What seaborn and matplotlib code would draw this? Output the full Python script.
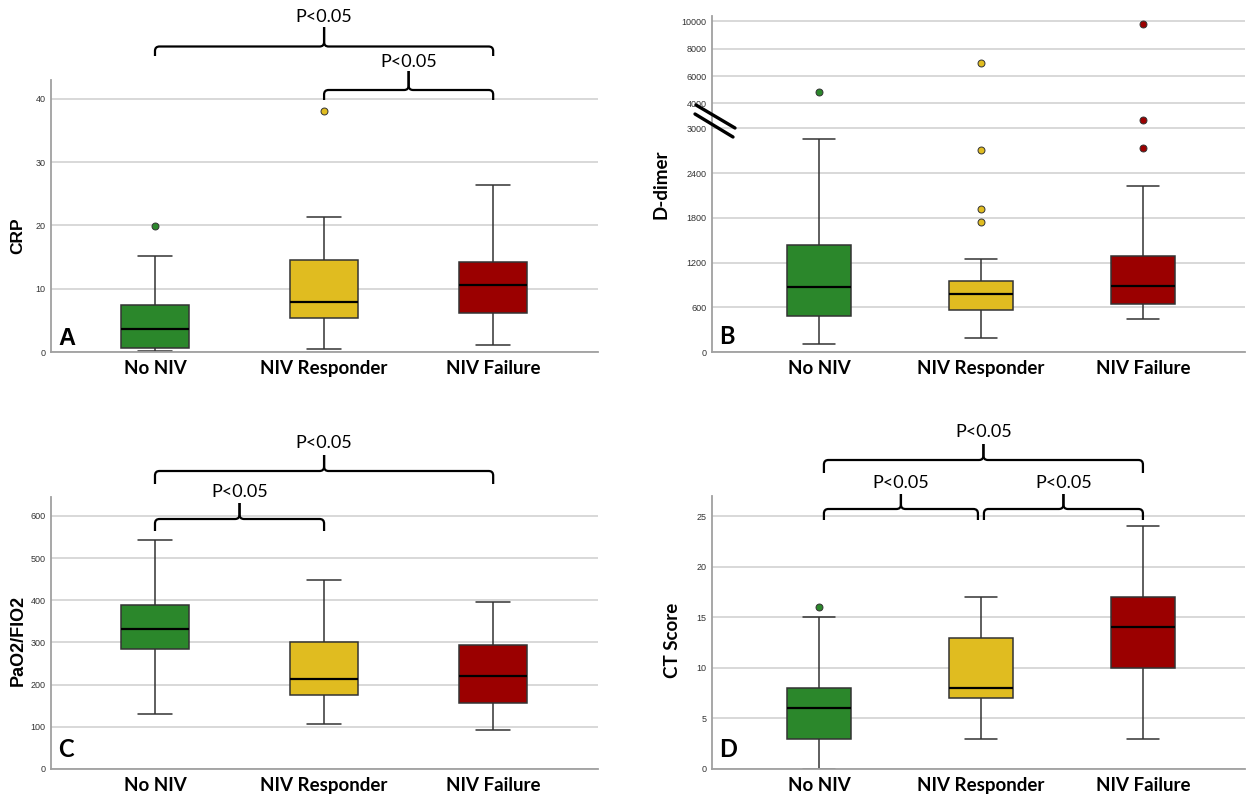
import numpy as np
import pandas as pd
import matplotlib
matplotlib.use("Agg")
import matplotlib.pyplot as plt
import seaborn as sns
from matplotlib.path import Path
from matplotlib.patches import PathPatch
from matplotlib.lines import Line2D

# ---------------- data ----------------
groups = ["No NIV", "NIV Responder", "NIV Failure"]
colors = ["#2b872b", "#e0bc20", "#9b0000"]

crp_no_niv = [0.1, 0.4, 0.6, 2.1, 3.7, 5.6, 7.5, 15.2, 19.9]
crp_responder = [0.4, 2.9, 5.3, 6.8, 7.9, 11.2, 14.6, 21.4, 38.1]
crp_failure = [1.05, 4.2, 6.2, 8.7, 10.6, 12.4, 14.3, 19.5, 26.4]

ddimer_no_niv = [108, 310, 485, 690, 867, 1150, 1440, 2863, 4843]
ddimer_responder = [193, 320, 410, 480, 530, 557, 610, 660, 700, 745, 773,
                    800, 840, 880, 915, 948, 1249, 1739, 1915, 2705, 6988]
ddimer_failure = [449, 520, 580, 615, 643, 700, 760, 830, 881, 980, 1090,
                  1200, 1290, 2229, 2732, 3315, 9831]

pf_no_niv = [130, 230, 284, 310, 333, 360, 390, 460, 543]
pf_responder = [107, 150, 175, 195, 213, 255, 300, 380, 448]
pf_failure = [92, 125, 157, 190, 220, 260, 293, 340, 396]

ct_no_niv = [0, 2, 3, 5, 6, 7, 8, 15, 16]
ct_responder = [3, 5, 7, 8, 8, 10, 13, 15, 17]
ct_failure = [3, 7, 10, 12, 14, 16, 17, 20, 24]

crp_ticks = [0, 10, 20, 30, 40]
ddimer_ticks = [0, 600, 1200, 1800, 2400, 3000, 4000, 6000, 8000, 10000]
pf_ticks = [0, 100, 200, 300, 400, 500, 600]
ct_ticks = [0, 5, 10, 15, 20, 25]

# ---------------- style ----------------
sns.set_theme(style="white")
plt.rcParams['font.family'] = ['Lato', 'DejaVu Sans']
plt.rcParams['text.color'] = 'black'
plt.rcParams['axes.labelcolor'] = 'black'
plt.rcParams['xtick.color'] = 'black'

W, H = 1258, 798
fig = plt.figure(figsize=(W / 100, H / 100), dpi=100)


def make_df(lists):
    return pd.DataFrame({
        "group": np.repeat(groups, [len(l) for l in lists]),
        "value": np.concatenate([np.asarray(l, float) for l in lists]),
    })


def panel(rect_px, lists, xlim, ylim, ticks, ylabel, ylabel_font, ylabel_size,
          ylabel_px, letter, letter_font, letter_size, letter_px, scale=None):
    left, top, right, bottom = rect_px
    ax = fig.add_axes([left / W, 1 - bottom / H, (right - left) / W, (bottom - top) / H])
    df = make_df(lists)
    sns.boxplot(data=df, x="group", y="value", hue="group", order=groups,
                hue_order=groups, palette=colors, saturation=1, width=0.4,
                linecolor="#333333", linewidth=1.1, fliersize=5, whis=1.5,
                legend=False,
                medianprops=dict(color="black", linewidth=1.6),
                flierprops=dict(marker="o", markeredgecolor="#333333",
                                markeredgewidth=0.7),
                ax=ax)
    # colour the outlier markers like their box
    for ln in ax.lines:
        if ln.get_linestyle() in ("None", "", " ") and len(ln.get_xdata()) > 0:
            i = int(round(float(np.asarray(ln.get_xdata())[0])))
            ln.set_markerfacecolor(colors[i])
    if scale is not None:
        ax.set_yscale("function", functions=scale)
    ax.set_xlim(*xlim)
    ax.set_ylim(*ylim)
    ax.set_yticks(ticks, labels=[str(t) for t in ticks])
    ax.set_xticks(range(len(groups)), labels=groups, fontweight="bold", fontsize=13.5)
    ax.tick_params(axis="x", length=0, pad=6, colors="black")
    ax.tick_params(axis="y", length=0, pad=4, labelsize=6.5, labelcolor="#333333",
                   labelfontfamily="Liberation Sans")
    ax.set_xlabel("")
    ax.set_ylabel(ylabel, fontweight="bold", fontsize=ylabel_size, family=ylabel_font,
                  color="black")
    lx, ly = ylabel_px
    ax.yaxis.set_label_coords((lx - left) / (right - left), (bottom - ly) / (bottom - top))
    ax.yaxis.label.set_va("center")
    ax.yaxis.grid(True, color="#d6d6d6", linewidth=1.3)
    ax.xaxis.grid(False)
    ax.set_axisbelow(True)
    sns.despine(ax=ax)
    for s in ("left", "bottom"):
        ax.spines[s].set_color("#a0a0a0")
        ax.spines[s].set_linewidth(1.3)
    fig.text(letter_px[0] / W, 1 - letter_px[1] / H, letter, fontsize=letter_size,
             fontweight="bold", family=letter_font, ha="left", va="baseline",
             color="black")
    return ax


def cat_px(ax, c):
    return ax.transData.transform((c, ax.get_ylim()[0]))[0]


def brace(x1, x2, yh, yend, ypeak, text, ty, r=4.5):
    xc = (x1 + x2) / 2.0

    def f(p):
        return (p[0] / W, 1 - p[1] / H)

    for xa, sgn in ((x1, 1), (x2, -1)):
        verts = [(xa, yend), (xa, yh + r), (xa, yh), (xa + sgn * r, yh),
                 (xc - sgn * r, yh), (xc, yh), (xc, yh - r), (xc, ypeak)]
        codes = [Path.MOVETO, Path.LINETO, Path.CURVE3, Path.CURVE3,
                 Path.LINETO, Path.CURVE3, Path.CURVE3, Path.LINETO]
        fig.add_artist(PathPatch(Path([f(v) for v in verts], codes), fill=False,
                                 lw=1.6, edgecolor="black", transform=fig.transFigure,
                                 capstyle="butt", joinstyle="round"))
    fig.text(xc / W, 1 - ty / H, text, fontsize=13, ha="center", va="center",
             color="black")


# piecewise axis for D-dimer (broken between 3000 and 4000)
K1, K2 = 0.3357, 0.1834
B1 = 3000 + 1000 * K1


def fwd(y):
    y = np.asarray(y, float)
    return np.where(y <= 3000, y,
                    np.where(y <= 4000, 3000 + (y - 3000) * K1, B1 + (y - 4000) * K2))


def inv(t):
    t = np.asarray(t, float)
    return np.where(t <= 3000, t,
                    np.where(t <= B1, 3000 + (t - 3000) / K1, 4000 + (t - B1) / K2))


axA = panel((51, 80, 598, 352), [crp_no_niv, crp_responder, crp_failure],
            (-0.615, 2.62), (0, 43), crp_ticks, "CRP", "Liberation Sans", 12.5,
            (18, 236), "A", "Liberation Sans", 17, (58, 345))
axB = panel((712, 16, 1245, 352), [ddimer_no_niv, ddimer_responder, ddimer_failure],
            (-0.66, 2.63), (0, 10390), ddimer_ticks, "D-dimer", "Lato", 13.5,
            (661, 184), "B", "Lato", 17, (719, 344), scale=(fwd, inv))
axC = panel((51, 497, 598, 769), [pf_no_niv, pf_responder, pf_failure],
            (-0.615, 2.62), (0, 645), pf_ticks, "PaO2/FIO2", "Liberation Sans", 13,
            (18, 640), "C", "Lato", 17, (58, 757))
axD = panel((712, 496, 1245, 769), [ct_no_niv, ct_responder, ct_failure],
            (-0.66, 2.63), (0, 27), ct_ticks, "CT Score", "Lato", 13.5,
            (673, 640), "D", "Lato", 17, (719, 757))

# axis break marks on D-dimer
for (xa, ya, xb, yb) in ((696, 105, 735, 128), (695, 114, 733, 137)):
    fig.add_artist(Line2D([xa / W, xb / W], [1 - ya / H, 1 - yb / H], color="black",
                          lw=2.4, transform=fig.transFigure))

# significance brackets
brace(cat_px(axA, 0), cat_px(axA, 2), 46.5, 56, 27, "P<0.05", 17)
brace(cat_px(axA, 1), cat_px(axA, 2), 90, 100, 71, "P<0.05", 62)

brace(cat_px(axC, 0), cat_px(axC, 2), 471, 484, 455, "P<0.05", 443)
brace(cat_px(axC, 0), cat_px(axC, 1), 519, 531, 503, "P<0.05", 492)

brace(cat_px(axD, 0) + 5, cat_px(axD, 2), 460, 473, 444, "P<0.05", 432)
brace(cat_px(axD, 0) + 5, cat_px(axD, 1) - 3, 509, 520, 494, "P<0.05", 483)
brace(cat_px(axD, 1) + 3, cat_px(axD, 2), 509, 520, 494, "P<0.05", 483)

fig.savefig("out.png", dpi=100, facecolor="white")
